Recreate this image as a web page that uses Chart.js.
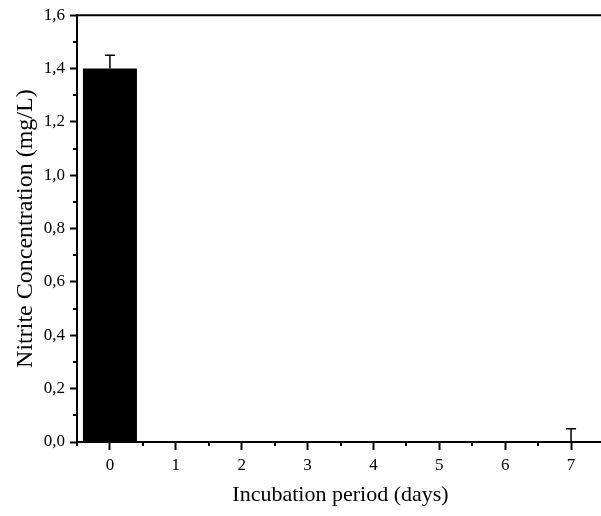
<!DOCTYPE html>
<html>
<head>
<meta charset="utf-8">
<script src="https://cdn.jsdelivr.net/npm/chart.js@4/dist/chart.umd.min.js"></script>
<style>
html,body{margin:0;padding:0;background:#fff;overflow:hidden;}
canvas{display:block;}
</style>
</head>
<body>
<canvas id="c" width="620" height="516"></canvas>
<script>
const days = ['0','1','2','3','4','5','6','7'];
const nitrite = [1.4, 0, 0, 0, 0, 0, 0, 0];
const nitriteErr = [0.05, 0, 0, 0, 0, 0, 0, 0.05];
const yTicks = [0, 0.2, 0.4, 0.6, 0.8, 1.0, 1.2, 1.4, 1.6];
const yMinorTicks = [0.1, 0.3, 0.5, 0.7, 0.9, 1.1, 1.3, 1.5];
const xMinorTicks = [-0.5, 0.5, 1.5, 2.5, 3.5, 4.5, 5.5, 6.5];

const FONT = "'Liberation Serif', 'Times New Roman', serif";

const extras = {
  id: 'extras',
  afterDatasetsDraw(chart) {
    const ctx = chart.ctx;
    const xs = chart.scales.x, ys = chart.scales.y;
    const ca = chart.chartArea;
    ctx.save();
    ctx.strokeStyle = '#000';
    // error bars
    ctx.lineWidth = 1.5;
    nitriteErr.forEach((e, i) => {
      if (!e) return;
      const x = xs.getPixelForValue(i);
      const y0 = ys.getPixelForValue(nitrite[i]);
      const y1 = ys.getPixelForValue(nitrite[i] + e);
      ctx.beginPath();
      ctx.moveTo(x, y0); ctx.lineTo(x, y1);
      ctx.moveTo(x - 5, y1); ctx.lineTo(x + 5, y1);
      ctx.stroke();
    });
    // top frame line
    ctx.lineWidth = 2;
    ctx.beginPath();
    ctx.moveTo(ca.left - 1, ca.top);
    ctx.lineTo(chart.width, ca.top);
    ctx.stroke();
    // minor ticks
    ctx.lineWidth = 2;
    yMinorTicks.forEach(v => {
      const y = Math.round(ys.getPixelForValue(v));
      ctx.beginPath();
      ctx.moveTo(ca.left, y); ctx.lineTo(ca.left - 4, y);
      ctx.stroke();
    });
    xMinorTicks.forEach(v => {
      const x = Math.round(xs.getPixelForValue(v));
      ctx.beginPath();
      ctx.moveTo(x, ca.bottom); ctx.lineTo(x, ca.bottom + 4);
      ctx.stroke();
    });
    ctx.restore();
  }
};

new Chart(document.getElementById('c'), {
  type: 'bar',
  data: {
    labels: days,
    datasets: [{
      data: nitrite,
      backgroundColor: '#000',
      borderWidth: 0,
      barPercentage: 0.82,
      categoryPercentage: 1.0
    }]
  },
  options: {
    responsive: false,
    animation: false,
    layout: { padding: { left: 0, top: 14, right: 16, bottom: 0 } },
    plugins: { legend: { display: false }, tooltip: { enabled: false } },
    scales: {
      x: {
        type: 'category',
        offset: true,
        afterFit: s => { s.height = 74; },
        grid: { display: true, drawOnChartArea: false, drawTicks: true, tickLength: 8, tickWidth: 2, tickColor: '#000', offset: false },
        border: { display: true, color: '#000', width: 2 },
        ticks: { color: '#000', font: { family: FONT, size: 17 }, padding: 5, maxRotation: 0 },
        title: { display: true, text: 'Incubation period (days)', color: '#000', font: { family: FONT, size: 22 }, padding: { top: 0, bottom: 8 } }
      },
      y: {
        min: 0, max: 1.6,
        afterFit: s => { s.width = 77; },
        afterBuildTicks: s => { s.ticks = yTicks.map(v => ({ value: v })); },
        grid: { display: true, drawOnChartArea: false, drawTicks: true, tickLength: 7, tickWidth: 2, tickColor: '#000' },
        border: { display: true, color: '#000', width: 2 },
        ticks: {
          color: '#000', font: { family: FONT, size: 17 }, padding: 5,
          callback: v => Number(v).toFixed(1).replace('.', ',')
        },
        title: { display: true, text: 'Nitrite Concentration (mg/L)', color: '#000', font: { family: FONT, size: 24 }, padding: { top: 11, bottom: 0 } }
      }
    }
  },
  plugins: [extras]
});
</script>
</body>
</html>
